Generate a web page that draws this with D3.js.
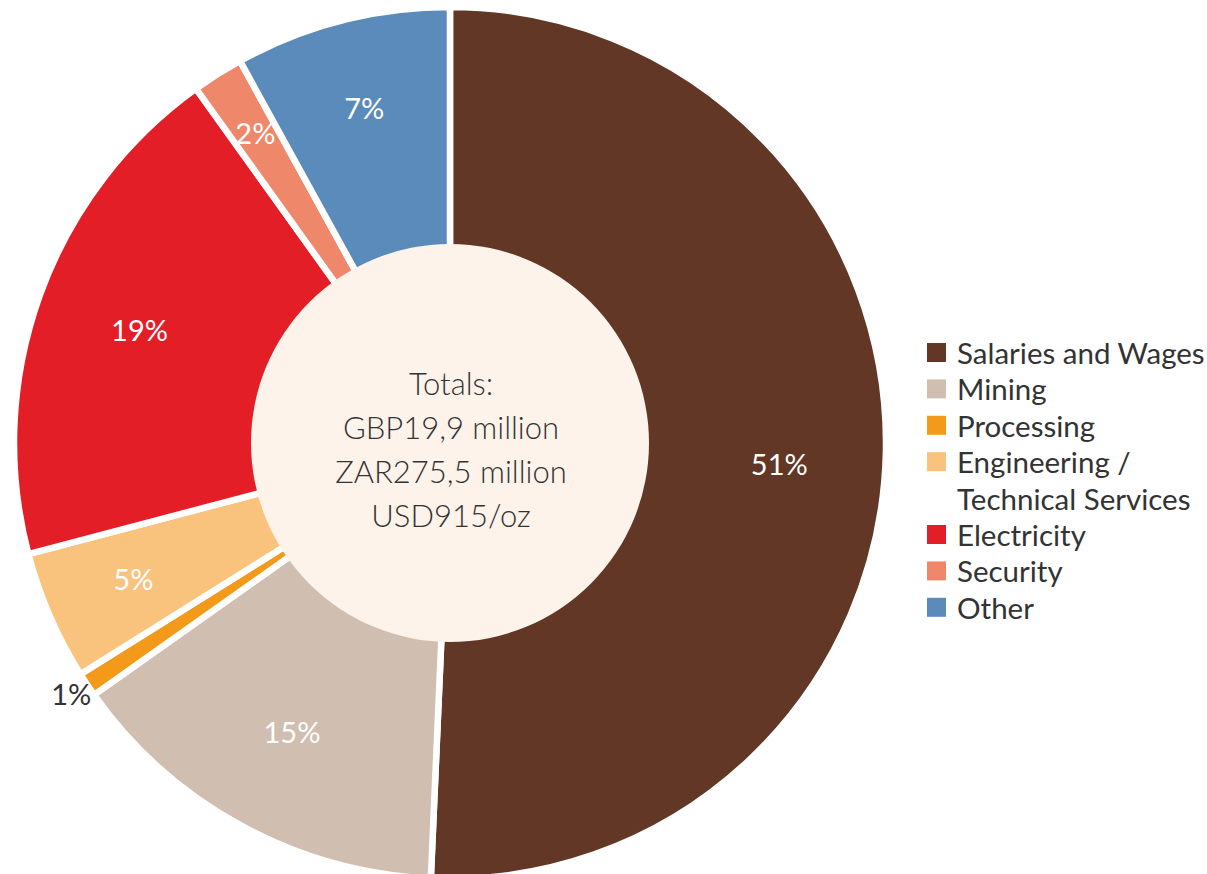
<!DOCTYPE html>
<html>
<head>
<meta charset="utf-8">
<script src="https://cdn.jsdelivr.net/npm/d3@7"></script>
<style>
  body { margin: 0; background: #fff; }
  svg { display: block; font-family: Lato, "Open Sans", sans-serif; }
</style>
</head>
<body>
<svg id="chart"></svg>
<script>
// shares (percent)
const categories = ["Salaries and Wages", "Mining", "Processing", "Engineering / Technical Services", "Electricity", "Security", "Other"];
const shares = [50.7, 14.5, 0.9, 4.8, 19.2, 1.9, 8.0];
const shareLabels = ["51%", "15%", "1%", "5%", "19%", "2%", "7%"];
const legendLines = [["Salaries and Wages"], ["Mining"], ["Processing"], ["Engineering /", "Technical Services"], ["Electricity"], ["Security"], ["Other"]];
const colors = ["#623725", "#d0beb1", "#f39a1b", "#f9c37d", "#e31e26", "#ef876b", "#5b8bbb"];
const totalsText = ["Totals:", "GBP19,9 million", "ZAR275,5 million", "USD915/oz"];

const width = 1207, height = 874;
const cx = 450, cy = 443;
const outerR = 436, innerR = 199;

const svg = d3.select("#chart")
    .attr("width", width)
    .attr("height", height);

const color = d3.scaleOrdinal().domain(categories).range(colors);

const pie = d3.pie().sort(null).value(d => d.value);
const arcs = pie(categories.map((c, i) => ({ name: c, value: shares[i], label: shareLabels[i] })));

const arc = d3.arc().innerRadius(0).outerRadius(outerR);

const chart = svg.append("g").attr("transform", `translate(${cx},${cy})`);

chart.selectAll(".slice")
    .data(arcs)
    .join("path")
    .attr("class", "slice")
    .attr("d", arc)
    .attr("fill", d => color(d.data.name))
    .attr("stroke", "#fff")
    .attr("stroke-width", 6.5)
    .attr("stroke-linejoin", "miter");

chart.append("circle")
    .attr("r", innerR)
    .attr("fill", "#fdf3ea");

// label radius: small slices pushed out, the tiny one goes outside
function labelRadius(v) {
    if (v < 1) return 455;
    if (v < 3) return 365;
    if (v < 10) return 345;
    return 330;
}

chart.selectAll(".pct")
    .data(arcs)
    .join("text")
    .attr("class", "pct")
    .attr("transform", d => {
        let a = (d.startAngle + d.endAngle) / 2;
        if (d.data.value > 40) a += 0.045;  // big slice label sits a bit lower
        const r = labelRadius(d.data.value);
        return `translate(${Math.sin(a) * r},${-Math.cos(a) * r})`;
    })
    .attr("text-anchor", "middle")
    .attr("dy", "0.35em")
    .attr("font-size", 29)
    .attr("fill", d => d.data.value < 1 ? "#333" : "#fff")
    .text(d => d.data.label);

chart.append("g")
    .selectAll("text")
    .data(totalsText)
    .join("text")
    .attr("x", 1)
    .attr("y", (d, i) => -48 + i * 44)
    .attr("text-anchor", "middle")
    .attr("font-size", 31)
    .attr("font-weight", 300)
    .attr("fill", "#333")
    .text(d => d);

// legend
const legend = svg.append("g").attr("transform", "translate(927,343)");
const lineStep = 36.4;
let line = 0;
legendLines.forEach((lines, i) => {
    const g = legend.append("g").attr("transform", `translate(0,${line * lineStep})`);
    g.append("rect")
        .attr("width", 19)
        .attr("height", 19)
        .attr("fill", colors[i]);
    lines.forEach((t, j) => {
        g.append("text")
            .attr("x", 30)
            .attr("y", 21 + j * lineStep)
            .attr("font-size", 29.5)
            .attr("fill", "#333")
            .text(t);
    });
    line += lines.length;
});
</script>
</body>
</html>
